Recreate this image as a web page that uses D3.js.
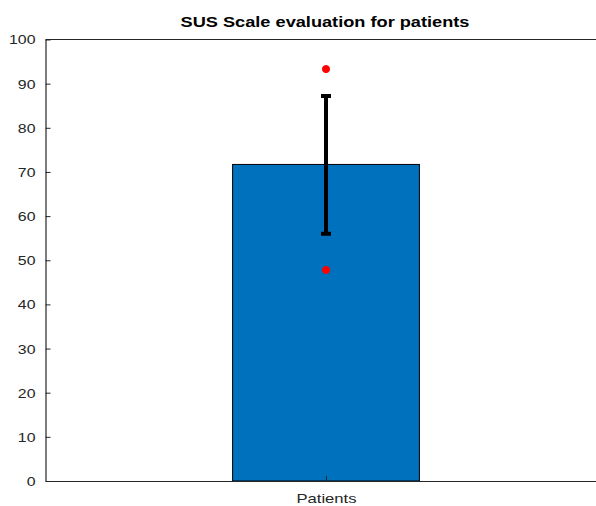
<!DOCTYPE html>
<html>
<head>
<meta charset="utf-8">
<script src="https://cdn.jsdelivr.net/npm/d3@7"></script>
<style>
  html, body { margin: 0; padding: 0; background: #fff; }
  svg { display: block; font-family: "Liberation Sans", Arial, Helvetica, sans-serif; }
  .axis text { fill: #262626; font-size: 13px; }
  .axis path, .axis line { stroke: #262626; }
</style>
</head>
<body>
<svg id="chart" width="596" height="506"></svg>
<script>
(function () {
  "use strict";

  const categories = ["Patients"];
  const meanValues = [71.7];
  const errorLow = [56.0];
  const errorHigh = [87.2];
  const extremeValues = [[93.3, 47.8]];
  const yTicks = [0, 10, 20, 30, 40, 50, 60, 70, 80, 90, 100];
  const titleText = "SUS Scale evaluation for patients";

  const svg = d3.select("#chart");
  const margin = { top: 39.5, left: 45.5, bottom: 25 };
  const plotRight = 606.5;
  const plotBottom = 506 - margin.bottom;

  const x = d3.scaleLinear().domain([0, 2]).range([margin.left, plotRight]);
  const y = d3.scaleLinear().domain([0, 100]).range([plotBottom, margin.top]);
  const barHalf = 0.333;

  // the reference text is a bit wider than the font, stretch it horizontally
  function stretch(sel, sx) {
    sel.each(function () {
      const t = d3.select(this);
      const tx = +t.attr("x") || 0;
      const ty = +t.attr("y") || 0;
      t.attr("x", 0).attr("y", 0)
        .attr("transform", `translate(${tx},${ty}) scale(${sx},1)`);
    });
  }

  const data = categories.map((c, i) => ({
    name: c,
    pos: i + 1,
    mean: meanValues[i],
    lo: errorLow[i],
    hi: errorHigh[i],
    extremes: extremeValues[i]
  }));

  // bars
  svg.append("g")
    .selectAll("rect")
    .data(data)
    .join("rect")
    .attr("x", d => x(d.pos - barHalf))
    .attr("y", d => y(d.mean))
    .attr("width", d => x(d.pos + barHalf) - x(d.pos - barHalf))
    .attr("height", d => y(0) - y(d.mean))
    .attr("fill", "#0072BD")
    .attr("stroke", "#000")
    .attr("stroke-width", 1);

  // axes
  const yAxis = svg.append("g")
    .attr("class", "axis")
    .attr("transform", `translate(${margin.left},0)`)
    .call(d3.axisLeft(y).tickValues(yTicks).tickSizeInner(-5).tickSizeOuter(0).tickPadding(10));
  yAxis.select(".domain").attr("stroke-width", 1.2);
  yAxis.selectAll(".tick text").attr("y", 0).attr("dy", null)
    .attr("dominant-baseline", "central").call(stretch, 1.22);

  const xAxis = svg.append("g")
    .attr("class", "axis")
    .attr("transform", `translate(0,${plotBottom})`)
    .call(d3.axisBottom(x).tickValues(data.map(d => d.pos))
      .tickFormat((v, i) => categories[i]).tickSizeInner(-5).tickSizeOuter(0).tickPadding(12));
  xAxis.select(".domain").attr("stroke-width", 1.2);
  xAxis.selectAll(".tick text").attr("dy", null)
    .attr("dominant-baseline", "hanging").call(stretch, 1.28);

  svg.append("line")
    .attr("x1", margin.left).attr("x2", plotRight)
    .attr("y1", margin.top).attr("y2", margin.top)
    .attr("stroke", "#262626").attr("stroke-width", 1.2);

  // error bars
  const err = svg.append("g").selectAll("g").data(data).join("g");
  err.append("line")
    .attr("x1", d => x(d.pos)).attr("x2", d => x(d.pos))
    .attr("y1", d => y(d.lo)).attr("y2", d => y(d.hi))
    .attr("stroke", "#000").attr("stroke-width", 4);
  err.selectAll(".cap")
    .data(d => [d.lo, d.hi].map(v => ({ pos: d.pos, v })))
    .join("line")
    .attr("class", "cap")
    .attr("x1", d => x(d.pos) - 5).attr("x2", d => x(d.pos) + 5)
    .attr("y1", d => y(d.v)).attr("y2", d => y(d.v))
    .attr("stroke", "#000").attr("stroke-width", 4);

  // extremes
  svg.append("g")
    .selectAll("path")
    .data(data.flatMap(d => d.extremes.map(v => ({ pos: d.pos, v }))))
    .join("path")
    .attr("transform", d => `translate(${x(d.pos)},${y(d.v)})`)
    .attr("d", d3.symbol(d3.symbolCircle, 40))
    .attr("fill", "#ff0000")
    .attr("stroke", "#ff0000")
    .attr("stroke-width", 1);

  svg.append("text")
    .attr("x", x(1) - 1)
    .attr("y", 27)
    .attr("text-anchor", "middle")
    .attr("font-weight", "bold")
    .attr("font-size", "14px")
    .attr("fill", "#000")
    .text(titleText)
    .call(stretch, 1.3);
})();
</script>
</body>
</html>
